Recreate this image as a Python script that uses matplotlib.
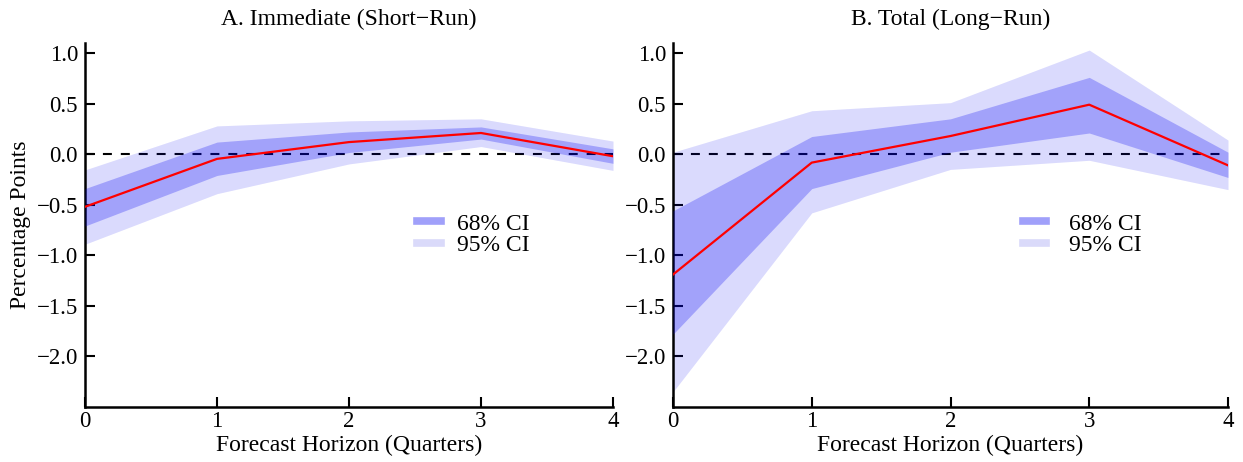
import matplotlib

matplotlib.use("Agg")
import matplotlib.pyplot as plt
from matplotlib.lines import Line2D

plt.rcParams["font.family"] = ["Liberation Serif", "DejaVu Serif"]

# horizonte de pronóstico (trimestres)
horizon = [0, 1, 2, 3, 4]

# Panel A: efecto inmediato
short_est = [-0.52, -0.046, 0.12, 0.21, -0.02]
short_68_lo = [-0.71, -0.21, 0.017, 0.15, -0.09]
short_68_hi = [-0.34, 0.12, 0.22, 0.27, 0.053]
short_95_lo = [-0.89, -0.39, -0.096, 0.076, -0.16]
short_95_hi = [-0.155, 0.28, 0.33, 0.35, 0.13]

# Panel B: efecto total
long_est = [-1.19, -0.083, 0.18, 0.49, -0.11]
long_68_lo = [-1.78, -0.34, 0.02, 0.21, -0.23]
long_68_hi = [-0.56, 0.175, 0.35, 0.76, 0.02]
long_95_lo = [-2.35, -0.58, -0.15, -0.06, -0.35]
long_95_hi = [0.02, 0.43, 0.51, 1.03, 0.14]

titles = ["A. Immediate (Short\u2212Run)", "B. Total (Long\u2212Run)"]
yticks = [-2.0, -1.5, -1.0, -0.5, 0.0, 0.5, 1.0]

BAND_RGB = (8 / 255, 8 / 255, 245 / 255)
C68 = "#a0a0fa"
C95 = "#dadafa"

W, H = 1243, 462
fig = plt.figure(figsize=(W / 100, H / 100), dpi=100)
boxes = [(85, 613), (673, 1228)]
top, bottom = 43, 407
axes = [fig.add_axes([x0 / W, 1 - bottom / H, (x1 - x0) / W, (bottom - top) / H])
        for x0, x1 in boxes]

panels = [
    (short_est, short_68_lo, short_68_hi, short_95_lo, short_95_hi),
    (long_est, long_68_lo, long_68_hi, long_95_lo, long_95_hi),
]
# posición de la leyenda y separación texto/handle en cada panel
legend_anchor = [(0.589, 0.591), (0.592, 0.591)]
legend_textpad = [0.7, 0.95]

for i, (ax, title, (est, lo68, hi68, lo95, hi95)) in enumerate(zip(axes, titles, panels)):
    ax.axhline(0, color="black", lw=1.5, ls=(0, (4.3, 4.3)), zorder=1)
    ax.fill_between(horizon, lo95, hi95, color=BAND_RGB, alpha=0.15, lw=0, zorder=2)
    ax.fill_between(horizon, lo68, hi68, color=BAND_RGB, alpha=0.265, lw=0, zorder=3)
    ax.plot(horizon, est, color="red", lw=1.6, zorder=4)

    ax.set_xlim(0, 4)
    ax.set_ylim(-2.5, 1.1)
    ax.set_xticks(horizon)
    ax.set_yticks(yticks)
    ax.set_yticklabels([f"{v:.1f}".replace("-", "\u2212") for v in yticks])
    for side in ("top", "right"):
        ax.spines[side].set_visible(False)
    for side in ("left", "bottom"):
        ax.spines[side].set_linewidth(1.8)
    ax.tick_params(direction="in", length=7, width=1.5, labelsize=16.5, pad=3)
    ax.tick_params(axis="y", pad=5)
    ax.set_title(title, fontsize=17, pad=13)
    ax.set_xlabel("Forecast Horizon (Quarters)", fontsize=17, labelpad=2)

    handles = [Line2D([], [], color=C68, lw=5.5), Line2D([], [], color=C95, lw=5.5)]
    ax.legend(handles, ["68% CI", "95% CI"], loc="upper left",
              bbox_to_anchor=legend_anchor[i], frameon=False, fontsize=17,
              handlelength=1.0, handletextpad=legend_textpad[i], labelspacing=0.0)

axes[0].set_ylabel("Percentage Points", fontsize=17, labelpad=4)

fig.savefig("out.png", dpi=100)
